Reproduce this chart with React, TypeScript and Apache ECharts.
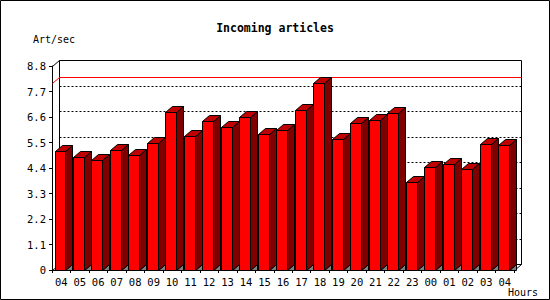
import React, { useEffect, useRef } from "react";
import * as echarts from "echarts";

const hours = ["04","05","06","07","08","09","10","11","12","13","14","15","16","17","18","19","20","21","22","23","00","01","02","03","04"];
const artPerSec = [5.15,4.88,4.76,5.19,4.96,5.48,6.83,5.79,6.44,6.18,6.61,5.87,6.05,6.90,8.05,5.66,6.35,6.48,6.78,3.78,4.45,4.58,4.36,5.44,5.40];
const yTicks = [0,1.1,2.2,3.3,4.4,5.5,6.6,7.7,8.8];

const DX = 7;
const DY = 6;
const MONO = "DejaVu Sans Mono";

export default function App() {
  const ref = useRef<HTMLDivElement>(null);
  useEffect(() => {
    if (!ref.current) return;
    const chart = echarts.init(ref.current, null, { renderer: "svg" });
    const maxVal = Math.max(...artPerSec);
    const r = (v: number) => Math.round(v) + 0.5;

    chart.setOption({
      animation: false,
      backgroundColor: "#fff",
      title: [
        { text: "Incoming articles", left: "center", top: 17, textStyle: { fontFamily: MONO, fontWeight: "bold", fontSize: 11.5, color: "#000" } },
        { text: "Art/sec", left: 28, top: 29, textStyle: { fontFamily: MONO, fontWeight: "normal", fontSize: 10, color: "#000" } },
        { text: "Hours", left: 503, top: 282, textStyle: { fontFamily: MONO, fontWeight: "normal", fontSize: 10, color: "#000" } },
      ],
      graphic: [
        { type: "rect", shape: { x: 0.5, y: 0.5, width: 549, height: 299 }, style: { fill: null, stroke: "#000", lineWidth: 1 }, z: 100 },
      ],
      grid: { left: 52, top: 66, right: 36, bottom: 30, containLabel: false },
      xAxis: {
        type: "category",
        data: hours,
        axisLine: { show: true, lineStyle: { color: "#000", width: 1 } },
        axisTick: { show: true, length: 3, lineStyle: { color: "#000" } },
        axisLabel: { margin: 6, fontFamily: MONO, fontSize: 10.5, color: "#000", interval: 0 },
        splitLine: { show: false },
      },
      yAxis: {
        type: "value",
        min: 0,
        max: 8.8,
        interval: 1.1,
        axisLine: { show: true, lineStyle: { color: "#000", width: 1 } },
        axisTick: { show: true, length: 3, lineStyle: { color: "#000" } },
        axisLabel: {
          margin: 6,
          fontFamily: MONO,
          fontSize: 10.5,
          color: "#000",
          formatter: (v: number) => (v === 0 ? "0" : v.toFixed(1)),
        },
        splitLine: { show: false },
      },
      series: [
        {
          type: "custom",
          name: "wall",
          z: 1,
          silent: true,
          data: [[0, 0]],
          encode: { x: 0, y: 1 },
          renderItem: (params: any, api: any) => {
            const cs = params.coordSys;
            const left = cs.x, top = cs.y, w = cs.width, h = cs.height;
            const children: any[] = [];
            children.push({
              type: "rect",
              shape: { x: r(left + DX), y: r(top - DY), width: Math.round(w), height: Math.round(h) },
              style: { fill: "#fff", stroke: "#000", lineWidth: 1 },
            });
            yTicks.forEach((t) => {
              if (t === 0 || t === yTicks[yTicks.length - 1]) return;
              const y = r(api.coord([0, t])[1] - DY);
              children.push({
                type: "line",
                shape: { x1: r(left + DX), y1: y, x2: r(left + DX + w), y2: y },
                style: { stroke: "#000", lineWidth: 1, lineDash: [2, 2] },
              });
            });
            const ym = api.coord([0, maxVal])[1];
            children.push({
              type: "line",
              shape: { x1: r(left + DX), y1: r(ym - DY), x2: r(left + DX + w), y2: r(ym - DY) },
              style: { stroke: "#ff0000", lineWidth: 1 },
            });
            children.push({
              type: "line",
              shape: { x1: r(left), y1: r(ym), x2: r(left + DX), y2: r(ym - DY) },
              style: { stroke: "#ff0000", lineWidth: 1 },
            });
            children.push({
              type: "line",
              shape: { x1: r(left), y1: r(top), x2: r(left + DX), y2: r(top - DY) },
              style: { stroke: "#000", lineWidth: 1 },
            });
            children.push({
              type: "line",
              shape: { x1: r(left), y1: r(top + h), x2: r(left + DX), y2: r(top + h - DY) },
              style: { stroke: "#000", lineWidth: 1 },
            });
            children.push({
              type: "line",
              shape: { x1: r(left + w), y1: r(top + h), x2: r(left + w + DX), y2: r(top + h - DY) },
              style: { stroke: "#000", lineWidth: 1 },
            });
            return { type: "group", children };
          },
        },
        {
          type: "custom",
          name: "Art/sec",
          z: 2,
          data: artPerSec.map((v, i) => [i, v]),
          encode: { x: 0, y: 1 },
          renderItem: (params: any, api: any) => {
            const i = api.value(0);
            const v = api.value(1);
            const base = api.coord([i, 0]);
            const tp = api.coord([i, v]);
            const cw = api.size([1, 0])[0];
            const fw = cw - DX - 0.5;
            const x0 = r(base[0] - cw / 2 + 2.5);
            const x1 = r(base[0] - cw / 2 + 2.5 + fw);
            const y0 = r(base[1]);
            const yt = r(tp[1]);
            const stroke = { stroke: "#000", lineWidth: 1 };
            return {
              type: "group",
              children: [
                {
                  type: "polygon",
                  shape: { points: [[x1, y0], [x1 + DX, y0 - DY], [x1 + DX, y0]] },
                  style: { fill: "#808080", ...stroke },
                },
                {
                  type: "polygon",
                  shape: { points: [[x1, y0], [x1 + DX, y0 - DY], [x1 + DX, yt - DY], [x1, yt]] },
                  style: { fill: "#800000", ...stroke },
                },
                {
                  type: "polygon",
                  shape: { points: [[x0, yt], [x0 + DX, yt - DY], [x1 + DX, yt - DY], [x1, yt]] },
                  style: { fill: "#c00000", ...stroke },
                },
                {
                  type: "rect",
                  shape: { x: x0, y: yt, width: x1 - x0, height: y0 - yt },
                  style: { fill: "#ff0000", ...stroke },
                },
              ],
            };
          },
        },
      ],
    });
    return () => chart.dispose();
  }, []);
  return <div ref={ref} style={{ position: "fixed", left: 0, top: 0, width: 550, height: 300 }} />;
}
